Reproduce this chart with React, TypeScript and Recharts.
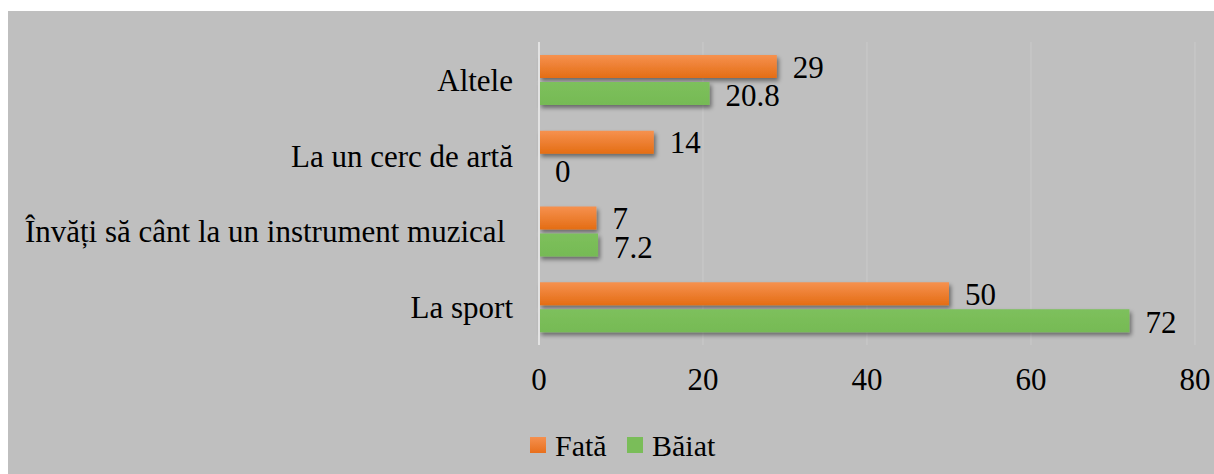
import { BarChart, Bar, XAxis, YAxis, CartesianGrid, Legend, LabelList } from "recharts";

const categories = [
  "Altele",
  "La un cerc de artă",
  "Învăți să cânt la un instrument muzical ",
  "La sport",
];
const fataValues = [29, 14, 7, 50];
const baiatValues = [20.8, 0, 7.2, 72];
const xTicks = [0, 20, 40, 60, 80];

const FONT = "Liberation Serif";

const data = categories.map((name, i) => ({
  name,
  fata: fataValues[i],
  baiat: baiatValues[i],
}));

function CategoryTick(props: any) {
  const { x, y, payload } = props;
  return (
    <text
      x={x}
      y={y}
      dy="0.355em"
      textAnchor="end"
      fill="#000"
      fontSize={31}
      fontFamily={FONT}
      style={{ whiteSpace: "pre", fontFamily: FONT }}
    >
      {payload.value}
    </text>
  );
}

function ValueTick(props: any) {
  const { x, y, payload } = props;
  return (
    <text
      x={x}
      y={y}
      dy="0.71em"
      textAnchor="middle"
      fill="#000"
      fontSize={31}
      fontFamily={FONT}
      style={{ fontFamily: FONT }}
    >
      {String(payload.value)}
    </text>
  );
}

function ValueLabel(props: any) {
  const { x, y, width, height, value, shift = 0 } = props;
  return (
    <text
      x={x + width + 16}
      y={y + height / 2 + shift}
      dy="0.36em"
      textAnchor="start"
      fill="#000"
      fontSize={31}
      fontFamily={FONT}
      style={{ fontFamily: FONT }}
    >
      {String(value)}
    </text>
  );
}

function ShadowBar(props: any) {
  const { x, y, width, height, fill } = props;
  if (!width || width <= 0) return null;
  return <rect x={x} y={y} width={width} height={height} fill={fill} filter="url(#barShadow)" />;
}

const legendItems = [
  { label: "Fată", fill: "url(#legendOrange)" },
  { label: "Băiat", fill: "#7abd59" },
];

function LegendContent() {
  return (
    <div style={{ height: 59, display: "flex", justifyContent: "center", alignItems: "center" }}>
      <svg width={200} height={40} style={{ marginLeft: 38, overflow: "visible" }}>
        <defs>
          <linearGradient id="legendOrange" x1="0" y1="0" x2="0" y2="1">
            <stop offset="0%" stopColor="#f5904f" />
            <stop offset="100%" stopColor="#e86f1c" />
          </linearGradient>
        </defs>
        {legendItems.map((it, i) => {
          const x0 = i === 0 ? 9 : 106;
          return (
            <g key={it.label}>
              <rect x={x0} y={12} width={16} height={16} fill={it.fill} />
              <text
                x={x0 + 25}
                y={20}
                dy="0.36em"
                fill="#000"
                fontSize={30}
                fontFamily={FONT}
                style={{ fontFamily: FONT }}
              >
                {it.label}
              </text>
            </g>
          );
        })}
      </svg>
    </div>
  );
}

export default function App() {
  return (
    <div
      style={{
        position: "absolute",
        left: 8,
        top: 11,
        width: 1206,
        height: 463,
        background: "#bfbfbf",
        overflow: "hidden",
      }}
    >
      <BarChart
        width={1206}
        height={463}
        data={data}
        layout="vertical"
        margin={{ top: 31, right: 19, bottom: 0, left: 0 }}
        barSize={23}
        barGap={4}
      >
        <defs>
          <linearGradient id="orangeGrad" x1="0" y1="0" x2="0" y2="1">
            <stop offset="0%" stopColor="#f6914f" />
            <stop offset="100%" stopColor="#e46d14" />
          </linearGradient>
          <linearGradient id="greenGrad" x1="0" y1="0" x2="0" y2="1">
            <stop offset="0%" stopColor="#7dc05c" />
            <stop offset="100%" stopColor="#76ba55" />
          </linearGradient>
          <filter id="barShadow" x="-5%" y="-30%" width="115%" height="180%">
            <feDropShadow dx="2" dy="3" stdDeviation="2" floodColor="#000" floodOpacity="0.45" />
          </filter>
        </defs>
        <CartesianGrid horizontal={false} stroke="#cacaca" strokeWidth={1} />
        <XAxis
          type="number"
          domain={[0, 80]}
          ticks={xTicks}
          axisLine={false}
          tickLine={false}
          tickSize={0}
          tickMargin={23}
          height={70}
          tick={<ValueTick />}
        />
        <YAxis
          type="category"
          dataKey="name"
          width={531}
          axisLine={{ stroke: "#e2e2e2", strokeWidth: 2 }}
          tickLine={false}
          tickSize={0}
          tickMargin={26}
          tick={<CategoryTick />}
          interval={0}
        />
        <Legend verticalAlign="bottom" content={<LegendContent />} />
        <Bar dataKey="fata" name="Fată" fill="url(#orangeGrad)" shape={<ShadowBar />} isAnimationActive={false}>
          <LabelList dataKey="fata" content={<ValueLabel shift={0} />} />
        </Bar>
        <Bar dataKey="baiat" name="Băiat" fill="url(#greenGrad)" shape={<ShadowBar />} isAnimationActive={false}>
          <LabelList dataKey="baiat" content={<ValueLabel shift={1.5} />} />
        </Bar>
      </BarChart>
    </div>
  );
}
